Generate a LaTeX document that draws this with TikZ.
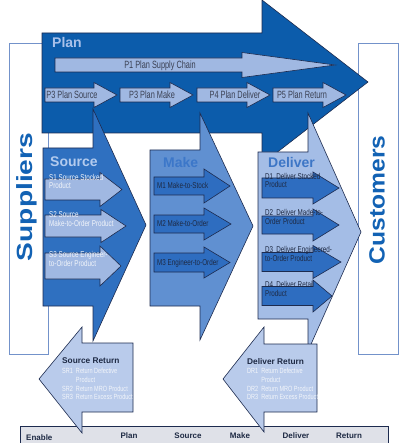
\documentclass[tikz,border=0pt]{standalone}
\usepackage{fontspec}
\setmainfont{Liberation Sans}
\newfontfamily\cond[FakeStretch=0.74]{Liberation Sans}
\newfontfamily\condp[FakeStretch=0.7]{Liberation Sans}
\definecolor{planblue}{HTML}{0C5CAB}
\definecolor{srcblue}{HTML}{2F70C0}
\definecolor{makeblue}{HTML}{6090D1}
\definecolor{delblue}{HTML}{A4BDE6}
\definecolor{lightarrow}{HTML}{A0B8E2}
\definecolor{darkarrow}{HTML}{2E6DC0}
\definecolor{retblue}{HTML}{B9CBEB}
\definecolor{outline}{HTML}{1D2B4F}
\definecolor{boxline}{HTML}{7392CA}
\definecolor{sidetext}{HTML}{1262B4}
\definecolor{enablefill}{HTML}{DFE1E8}
\definecolor{ptext}{HTML}{3A4052}
\definecolor{dtext}{HTML}{1E2A44}
\definecolor{plantext}{HTML}{A9C1EA}
\definecolor{srctext}{HTML}{B3CBEE}
\definecolor{maketext}{HTML}{3C77C9}
\definecolor{deltext}{HTML}{3D76C6}
\definecolor{whitetext}{HTML}{F2F5FA}
\newcommand\rarr[7]{\draw[#1] (#2,#5-#6) -- (#3,#5-#6) -- (#3,#5-#7) -- (#4,#5) -- (#3,#5+#7) -- (#3,#5+#6) -- (#2,#5+#6) -- cycle;}
\tikzset{
  shapeline/.style={draw=outline, line width=0.6pt},
  lightarr/.style={shapeline, fill=lightarrow},
  darkarr/.style={shapeline, fill=darkarrow},
  heading/.style={font=\bfseries\fontsize{14}{14}\selectfont, anchor=west, inner sep=0pt},
  plabel/.style={font=\condp\fontsize{10.5}{10.5}\selectfont, text=ptext, anchor=base, inner sep=0pt},
  sublabel/.style={font=\cond\fontsize{8.5}{8.6}\selectfont, anchor=base west, inner sep=0pt, align=left},
  retlabel/.style={font=\cond\fontsize{7.5}{8.7}\selectfont, text=whitetext, anchor=base west, inner sep=0pt},
  rethead/.style={font=\bfseries\fontsize{8.3}{8.3}\selectfont, text=dtext, anchor=base west, inner sep=0pt},
  enlabel/.style={font=\bfseries\fontsize{8}{8}\selectfont, text=dtext, anchor=base, inner sep=0pt},
  sidebox/.style={draw=boxline, line width=0.8pt},
  sidelabel/.style={font=\bfseries\fontsize{22}{22}\selectfont, text=sidetext, rotate=90, inner sep=0pt}
}
\begin{document}
\begin{tikzpicture}[x=1pt,y=-1pt]
\useasboundingbox (0,0) rectangle (411,443);
\clip (0,0) rectangle (411,443);
% side boxes
\draw[sidebox] (9,43) rectangle (48,354);
\draw[sidebox] (358,43) rectangle (398,354);
\node[sidelabel] (suppliers) at (27,197) {\scalebox{1.28}[1]{Suppliers}};
\node[sidelabel] (customers) at (377,200) {\scalebox{1.12}[1]{Customers}};
% Plan arrow
\draw[shapeline, fill=planblue] (42,33) -- (262,33) -- (262,0) -- (368,82) -- (262,164) -- (262,133) -- (42,133) -- cycle;
\node[heading, text=plantext] (plan) at (52,43) {Plan};
% Source, Make, Deliver
\draw[shapeline, fill=srcblue] (43,148) -- (93,148) -- (93,109) -- (146,225) -- (93,341) -- (93,306) -- (43,306) -- cycle;
\draw[shapeline, fill=makeblue] (150,150) -- (200,150) -- (200,113) -- (253,226) -- (200,340) -- (200,306) -- (150,306) -- cycle;
\draw[shapeline, fill=delblue] (258,152) -- (308,152) -- (308,113) -- (361,232) -- (308,351) -- (308,319) -- (258,319) -- cycle;
\node[heading, text=srctext] (source) at (50,162) {Source};
\node[heading, text=maketext] (make) at (163,162) {Make};
\node[heading, text=deltext] (deliver) at (268,162) {Deliver};
% Plan sub-arrows
\rarr{lightarr}{55}{242}{335}{65}{7}{12.5}
\node[plabel] (p1) at (160,68.8) {P1 Plan Supply Chain};
\rarr{lightarr}{45}{94}{117}{95}{7}{12.5}
\rarr{lightarr}{120}{170}{193}{95}{7}{12.5}
\rarr{lightarr}{197}{247}{270}{95}{7}{12.5}
\rarr{lightarr}{273}{323}{346}{95}{7}{12.5}
\node[plabel] (p3s) at (72,98.8) {P3 Plan Source};
\node[plabel] (p3m) at (152,98.8) {P3 Plan Make};
\node[plabel] (p4) at (235,98.8) {P4 Plan Deliver};
\node[plabel] (p5) at (302,98.8) {P5 Plan Return};
% Source sub-arrows
\rarr{lightarr}{45}{100}{122}{189.5}{10.5}{17}
\rarr{lightarr}{45}{101}{126}{226}{11}{16.5}
\rarr{lightarr}{45}{100}{121}{266}{13}{20}
\node[sublabel, text=whitetext] (s1) at (49,189) {S1 Source Stocked\\Product};
\node[sublabel, text=whitetext] (s2) at (49,226) {S2 Source\\Make-to-Order Product};
\node[sublabel, text=whitetext] (s3) at (49,266) {S3 Source Engineer-\\to-Order Product};
% Make sub-arrows
\rarr{darkarr}{154}{204}{230}{186}{9}{17}
\rarr{darkarr}{154}{204}{231}{224}{9}{16}
\rarr{darkarr}{154}{204}{230}{262.5}{9.5}{15.5}
\node[sublabel, text=dtext] (m1) at (157,189) {M1 Make-to-Stock};
\node[sublabel, text=dtext] (m2) at (157,226.5) {M2 Make-to-Order};
\node[sublabel, text=dtext] (m3) at (157,265) {M3 Engineer-to-Order};
% Deliver sub-arrows
\rarr{darkarr}{262}{313}{339}{188}{10}{16}
\rarr{darkarr}{262}{313}{339}{225}{9}{16}
\rarr{darkarr}{262}{313}{341}{262}{9.5}{16.5}
\rarr{darkarr}{262}{313}{332}{296}{9.5}{16}
\node[sublabel, text=dtext] (d1) at (265,188) {D1\, Deliver Stocked\\Product};
\node[sublabel, text=dtext] (d2) at (265,224) {D2\, Deliver Made-to-\\Order Product};
\node[sublabel, text=dtext] (d3) at (265,261) {D3\, Deliver Engineered-\\to-Order Product};
\node[sublabel, text=dtext] (d4) at (265,296) {D4\, Deliver Retail\\Product};
% Enable bar
\draw[shapeline, fill=enablefill] (20,426) rectangle (388,452);
\node[enlabel, anchor=base west] (enable) at (26,440) {Enable};
\node[enlabel] (eplan) at (129,438) {Plan};
\node[enlabel] (esource) at (188,438) {Source};
\node[enlabel] (emake) at (240,438) {Make};
\node[enlabel] (edeliver) at (296,438) {Deliver};
\node[enlabel] (ereturn) at (349,438) {Return};
% Return arrows
\draw[shapeline, fill=retblue] (39,379) -- (82,327) -- (82,343) -- (133,343) -- (133,412) -- (82,412) -- (82,433) -- cycle;
\draw[shapeline, fill=retblue] (223,379) -- (264,327) -- (264,344) -- (317,344) -- (317,412) -- (264,412) -- (264,432) -- cycle;
\node[rethead] (sr) at (62,363) {Source Return};
\node[retlabel] (srl) at (62,373.7) {\begin{tabular}[t]{@{}l@{\hspace{3pt}}l@{}}SR1 & Return Defective\\ & Product\\ SR2 & Return MRO Product\\ SR3 & Return Excess Product\end{tabular}};
\node[rethead] (dr) at (247,364) {Deliver Return};
\node[retlabel] (drl) at (247,373.7) {\begin{tabular}[t]{@{}l@{\hspace{3pt}}l@{}}DR1 & Return Defective\\ & Product\\ DR2 & Return MRO Product\\ DR3 & Return Excess Product\end{tabular}};
\end{tikzpicture}
\end{document}
